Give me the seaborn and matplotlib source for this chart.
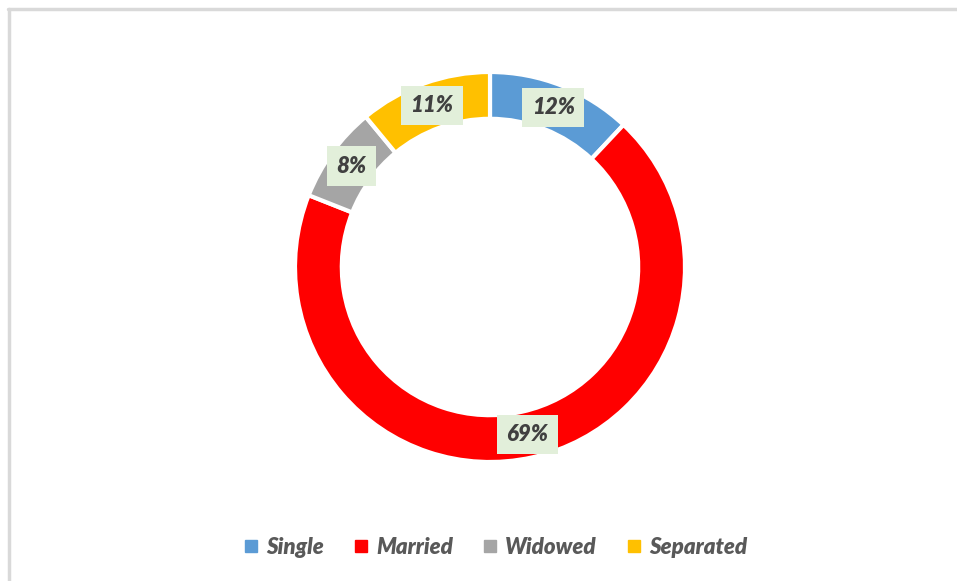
import matplotlib
matplotlib.use("Agg")
import matplotlib.pyplot as plt
import seaborn as sns
from matplotlib.lines import Line2D
import numpy as np

# marital status shares (%)
categories = ["Single", "Married", "Widowed", "Separated"]
shares = [12, 69, 8, 11]
colors = ["#5B9BD5", "#FF0000", "#A5A5A5", "#FFC000"]

sns.set_style("white")
plt.rcParams['font.family'] = ['Lato', 'DejaVu Sans']

W, H = 957, 581
fig = plt.figure(figsize=(W / 100, H / 100), dpi=100)

# frame lines (top and left only, the rest is cropped)
fig.add_artist(Line2D([8 / W, 1], [1 - 9 / H, 1 - 9 / H], color="#D9D9D9", lw=2.5))
fig.add_artist(Line2D([9 / W, 9 / W], [0, 1 - 9 / H], color="#D9D9D9", lw=2.5))

cx, cy, r = 490, H - 267, 195
ax = fig.add_axes([(cx - r) / W, (cy - r) / H, 2 * r / W, 2 * r / H])

width = 0.24
wedges, _ = ax.pie(shares, colors=colors, startangle=90, counterclock=False,
                   radius=1, wedgeprops=dict(width=width, edgecolor="white", linewidth=3))
ax.set_xlim(-1, 1)
ax.set_ylim(-1, 1)
ax.axis("off")

start = 90
for val in shares:
    mid = np.deg2rad(start - val * 3.6 / 2)
    start -= val * 3.6
    rr = 1 - width / 2
    ax.text(rr * np.cos(mid), rr * np.sin(mid), f"{val}%", ha="center", va="center",
            fontsize=16, fontweight="heavy", fontstyle="italic", color="#404040",
            bbox=dict(boxstyle="square,pad=0.42", facecolor="#E2EFDA", edgecolor="none"))

handles = [plt.Line2D([], [], marker="s", linestyle="none", markersize=8,
                      markerfacecolor=c, markeredgecolor=c) for c in colors]
leg = fig.legend(handles, categories, loc="center", bbox_to_anchor=(495 / W, 1 - 547 / H),
                 ncol=4, frameon=False, handlelength=0.7, handletextpad=0.35,
                 columnspacing=1.3,
                 prop=dict(size=16, weight="heavy", style="italic"))
for t in leg.get_texts():
    t.set_color("#595959")

fig.savefig("out.png", dpi=100)
